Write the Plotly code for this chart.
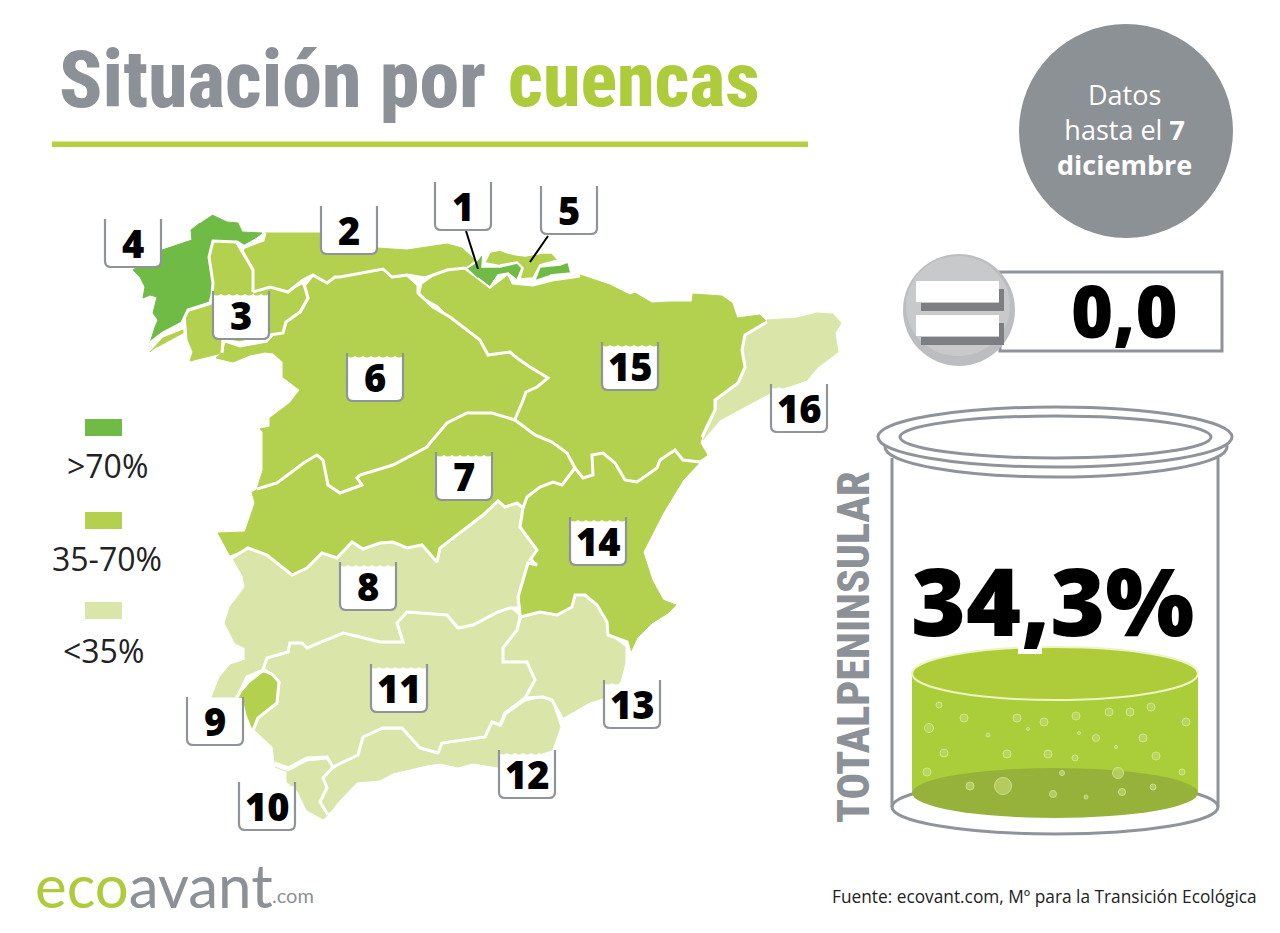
import plotly.graph_objects as go

# basin outlines (image pixel units)
cuenca_4 = [(212,215),(227,222),(238,223),(242,232),(262,233),(257,237),(243,245),(237,242),(213,241),(209,257),
            (213,283),(212,295),(210,303),(188,310),(182,323),(163,333),(150,343),(155,327),(158,320),(153,313),
            (157,297),(150,295),(143,298),(145,287),(140,277),(133,270),(162,250),(192,240),(191,230),(200,223)]
cuenca_3 = [(213,242),(235,243),(242,255),(252,270),(252,292),(270,287),(287,293),(302,285),(308,298),(300,312),
            (286,322),(283,333),(270,335),(240,343),(223,340),(222,353),(190,361),(193,352),(188,340),(186,313),
            (212,305),(213,283),(210,257)]
cuenca_3b = [(225,343),(240,347),(267,342),(265,352),(250,355),(233,362),(216,358),(223,352)]
cuenca_3c = [(150,352),(163,338),(183,330),(183,333),(157,347)]
cuenca_2 = [(245,247),(263,240),(265,233),(320,233),(377,248),(407,250),(447,244),(462,248),(475,260),(465,268),
            (447,270),(425,278),(407,275),(392,277),(383,269),(340,277),(335,277),(327,283),(313,275),(303,280),
            (288,292),(270,287),(253,292),(253,270),(243,253)]
cuenca_6 = [(313,277),(327,284),(335,278),(340,278),(383,270),(392,279),(407,277),(418,285),(418,293),(433,307),
            (450,317),(467,330),(480,340),(488,355),(510,352),(517,358),(530,367),(548,378),(537,387),(526,392),
            (522,403),(515,418),(492,413),(467,413),(447,423),(430,443),(427,447),(393,465),(360,475),(357,478),
            (362,485),(340,493),(328,485),(323,460),(317,455),(305,462),(277,483),(257,489),(263,470),(263,432),
            (260,429),(270,427),(270,418),(290,403),(300,390),(283,377),(283,362),(273,353),(265,352),(268,342),
            (287,323),(302,313),(310,298),(305,287)]
cuenca_7 = [(252,492),(255,503),(245,532),(218,533),(230,555),(248,548),(267,555),(292,575),(307,568),(322,553),
            (337,558),(352,542),(363,549),(380,543),(393,542),(407,548),(422,545),(437,562),(440,548),(463,530),
            (483,515),(498,501),(505,507),(517,503),(523,508),(527,497),(540,487),(553,482),(562,485),(573,467),
            (567,453),(552,442),(535,435),(515,420),(492,413),(467,413),(447,423),(430,443),(427,447),(393,465),
            (360,475),(357,478),(362,485),(340,493),(328,485),(323,460),(317,455),(305,462),(277,483),(257,489)]
cuenca_8 = [(232,558),(248,548),(267,555),(292,575),(307,568),(322,553),(337,558),(352,542),(363,549),(380,543),
            (393,542),(407,548),(422,545),(437,562),(440,548),(463,530),(483,515),(498,501),(505,507),(517,503),
            (523,508),(518,523),(537,550),(530,560),(525,568),(518,597),(520,608),(510,608),(498,612),(473,625),
            (458,628),(447,615),(407,612),(397,623),(403,642),(380,642),(360,637),(343,633),(307,648),(302,643),
            (290,643),(288,652),(267,658),(263,670),(247,677),(235,697),(212,697),(220,677),(230,665),(245,660),
            (245,648),(235,643),(225,623),(230,607),(245,587),(243,577)]
cuenca_9 = [(237,698),(250,683),(263,673),(273,675),(279,682),(277,703),(258,718),(253,730),(247,715),(243,698)]
cuenca_11 = [(265,662),(267,658),(288,652),(290,643),(302,643),(307,648),(343,633),(360,637),(380,642),(403,642),
             (397,623),(407,612),(447,615),(458,628),(473,625),(498,612),(510,608),(520,617),(517,630),(503,648),
             (503,662),(527,662),(535,680),(525,698),(505,713),(500,725),(492,722),(485,737),(442,743),(438,753),
             (420,748),(402,728),(383,728),(363,737),(358,755),(333,767),(327,757),(307,758),(288,768),(275,763),
             (273,747),(255,730),(260,718),(278,705),(281,682),(273,673),(263,667)]
cuenca_10 = [(275,767),(288,772),(307,762),(327,760),(333,768),(323,778),(327,788),(320,802),(328,815),(323,819),
             (307,810),(297,790),(287,782),(287,772)]
cuenca_12 = [(323,777),(357,753),(363,737),(383,730),(402,730),(420,750),(438,755),(443,743),(485,738),(493,723),
             (502,727),(507,715),(525,702),(543,698),(552,703),(560,727),(552,750),(498,767),(473,763),(458,767),
             (440,763),(427,765),(393,773),(380,780),(357,782),(337,803),(332,810),(328,813),(322,802),(327,788)]
cuenca_13 = [(522,618),(540,613),(557,617),(572,607),(575,595),(585,595),(597,605),(607,622),(607,633),(618,642),
             (625,647),(625,663),(620,682),(603,698),(590,702),(562,718),(552,700),(543,697),(525,698),(536,680),
             (528,662),(505,662),(503,648),(518,630)]
cuenca_14 = [(523,508),(527,497),(540,487),(553,482),(562,485),(575,468),(583,478),(593,475),(592,455),(603,453),
             (615,463),(625,480),(637,482),(657,468),(660,460),(675,450),(683,460),(700,462),(683,480),(663,513),
             (643,552),(652,580),(663,600),(676,605),(668,613),(652,623),(637,638),(630,653),(627,642),(608,635),
             (607,622),(597,605),(585,595),(575,595),(572,607),(557,615),(540,612),(522,615),(520,597),(528,563),
             (537,565),(533,558),(537,550),(520,527)]
cuenca_15 = [(422,285),(433,277),(455,268),(465,268),(490,287),(508,273),(513,283),(533,285),(552,280),(580,275),
             (610,285),(630,295),(635,293),(652,303),(670,302),(692,302),(693,294),(722,296),(732,303),(737,318),
             (760,315),(767,322),(745,335),(742,350),(745,367),(738,383),(715,400),(715,410),(702,437),(700,443),
             (707,455),(700,460),(683,460),(675,450),(660,460),(657,468),(637,482),(625,480),(615,463),(603,453),
             (592,455),(593,475),(583,478),(575,468),(567,453),(552,442),(535,435),(515,420),(526,392),(548,378),
             (530,367),(510,352),(488,355),(482,343),(460,327),(450,317),(438,305),(420,295)]
cuenca_16 = [(767,320),(797,318),(817,313),(833,314),(841,323),(835,333),(838,352),(818,367),(807,380),(770,393),
             (720,420),(703,440),(717,410),(717,400),(740,383),(747,367),(743,350),(747,335)]
cuenca_1 = [(467,268),(475,263),(483,253),(482,267),(500,267),(517,263),(522,268),(517,280),(508,273),(498,275),
            (490,287),(478,278)]
cuenca_1b = [(535,280),(540,267),(560,265),(568,262),(571,273),(550,275)]
cuenca_5 = [(485,262),(490,252),(500,250),(508,253),(517,255),(525,256),(543,253),(552,253),(558,260),(540,265),
            (533,278),(520,279),(523,268),(517,262),(500,265)]

# white divides between neighbouring basins
divides = [
    [(265,233),(263,240),(245,247),(237,242),(213,241),(209,257),(213,283),(212,295),(210,303),(188,310),(182,323),
     (163,333),(150,343)],
    [(237,242),(243,253),(253,270),(253,292)],
    [(253,292),(270,287),(288,292),(303,280),(313,275),(327,283),(335,277),(340,277),(383,269),(392,277),(407,275),
     (425,278),(447,270),(465,268),(490,287),(508,273),(513,283),(533,285),(552,280),(580,276)],
    [(303,280),(308,298),(300,312),(286,322),(283,333),(270,335),(240,343),(223,340),(222,353)],
    [(223,340),(240,346),(267,341)],
    [(407,275),(418,285),(418,293),(433,307),(450,317),(467,330),(480,340),(488,355),(510,352),(517,358),(530,367),
     (548,378),(537,387),(526,392),(522,403),(515,419)],
    [(257,489),(277,483),(305,462),(317,455),(323,460),(328,485),(340,493),(362,485),(357,478),(360,475),(393,465),
     (427,447),(430,443),(447,423),(467,413),(492,413),(515,420)],
    [(515,420),(535,435),(552,442),(567,453),(575,468)],
    [(575,468),(562,485),(553,482),(540,487),(527,497),(523,508)],
    [(575,468),(583,478),(593,475),(592,455),(603,453),(615,463),(625,480),(637,482),(657,468),(660,460),(675,450),
     (683,460),(700,462)],
    [(767,322),(745,335),(742,350),(745,367),(738,383),(715,400),(715,410),(702,437)],
    [(232,558),(248,548),(267,555),(292,575),(307,568),(322,553),(337,558),(352,542),(363,549),(380,543),(393,542),
     (407,548),(422,545),(437,562),(440,548),(463,530),(483,515),(498,501),(505,507),(517,503),(523,508)],
    [(523,508),(520,527),(537,550),(530,560),(537,565),(528,563),(518,597),(520,617)],
    [(520,608),(510,608),(498,612),(473,625),(458,628),(447,615),(407,612),(397,623),(403,642),(380,642),(360,637),
     (343,633),(307,648),(302,643),(290,643),(288,652),(267,658),(263,670),(247,677),(237,698)],
    [(263,670),(273,675),(279,682),(277,703),(258,718),(253,730)],
    [(520,617),(517,630),(503,648),(503,662),(527,662),(535,680),(525,698)],
    [(520,617),(540,612),(557,615),(572,607),(575,595),(585,595),(597,605),(607,622),(608,635),(627,642),(630,653)],
    [(525,698),(543,697),(552,700),(562,718)],
    [(525,698),(505,713),(500,725),(492,722),(485,737),(442,743),(438,753),(420,748),(402,728),(383,728),(363,737),
     (358,755),(333,767),(323,778),(327,788),(320,802),(328,815)],
    [(333,767),(327,757),(307,758),(288,768),(275,763)],
]

legend_labels = [">70%", "35-70%", "<35%"]
legend_colors = ["#6fbb45", "#b3d14f", "#dae6a9"]

basin_polygons = [
    (cuenca_2, 1), (cuenca_4, 0), (cuenca_3, 1), (cuenca_3b, 1), (cuenca_3c, 1), (cuenca_6, 1), (cuenca_7, 1),
    (cuenca_8, 2), (cuenca_11, 2), (cuenca_9, 1), (cuenca_10, 2), (cuenca_12, 2), (cuenca_13, 2), (cuenca_14, 1),
    (cuenca_15, 1), (cuenca_16, 2),
]
small_polygons = [(cuenca_5, 1), (cuenca_1, 0), (cuenca_1b, 0)]

cup_labels = ["1", "2", "3", "4", "5", "6", "7", "8", "9", "10", "11", "12", "13", "14", "15", "16"]
cup_left = [435, 321, 213, 105, 541, 347, 436, 340, 187, 239, 371, 499, 604, 570, 602, 771]
cup_top = [182, 206, 291, 219, 186, 353, 452, 562, 697, 782, 664, 750, 680, 517, 342, 384]

variation = "0,0"
total_peninsular = "34,3%"

bubble_x = [939,964,929,1017,1044,1076,1109,1130,1151,1186,988,1028,1079,1096,1143,1116,944,1007,1048,1075,1156,
            927,1062,1118,1182,970,1003,1053,1086,1122,1153]
bubble_y = [705,718,728,718,722,716,712,712,707,722,735,729,733,738,738,747,753,754,754,758,756,
            772,773,773,772,786,786,794,797,792,787]
bubble_size = [6,8,9,8,8,8,8,8,8,8,4,3,3,7,8,3,8,8,8,6,8,
               8,5,11,6,8,17,7,4,7,6]

GRAY = "#8b9196"
LINE_GRAY = "#8f949a"
GREEN = "#aecb3b"
CONDENSED = "Roboto Condensed"
# page body keeps an 8px margin, so the figure starts at (8, 8)
PAGE_MARGIN = 8


def cup_shapes(left, top, w=56, h=48):
    # white cup with a wavy top edge, gray sides and base
    waves = 7
    step = w / waves
    fill = f"M {left},{top + 3}"
    for i in range(waves):
        fill += f" Q {left + step * (i + 0.5)},{top + 6} {left + step * (i + 1)},{top + 3}"
    fill += f" L {left + w},{top + h - 6} Q {left + w},{top + h} {left + w - 6},{top + h}"
    fill += f" L {left + 6},{top + h} Q {left},{top + h} {left},{top + h - 6} Z"
    edge = (f"M {left},{top} L {left},{top + h - 6} Q {left},{top + h} {left + 6},{top + h} "
            f"L {left + w - 6},{top + h} Q {left + w},{top + h} {left + w},{top + h - 6} L {left + w},{top}")
    return [
        dict(type="path", path=fill, fillcolor="white", line=dict(width=0), layer="above"),
        dict(type="path", path=edge, line=dict(color=LINE_GRAY, width=2.2), layer="above"),
    ]


def ellipse(x0, y0, x1, y1, color=None, fill=None, width=3, layer="below"):
    return dict(type="circle", x0=x0, y0=y0, x1=x1, y1=y1, fillcolor=fill or "rgba(0,0,0,0)",
                line=dict(color=color or "rgba(0,0,0,0)", width=width if color else 0), layer=layer)


def rect(x0, y0, x1, y1, fill, layer="below", color=None, width=0):
    return dict(type="rect", x0=x0, y0=y0, x1=x1, y1=y1, fillcolor=fill,
                line=dict(color=color or "rgba(0,0,0,0)", width=width), layer=layer)


def label(text, x, y, size, color="black", font="Open Sans", weight=400, xanchor="center", angle=0):
    return dict(text=text, x=x, y=y, xref="x", yref="y", showarrow=False, xanchor=xanchor, yanchor="middle",
                textangle=angle, font=dict(family=font, size=size, color=color, weight=weight))


fig = go.Figure()

for poly, level in basin_polygons:
    fig.add_trace(go.Scatter(x=[p[0] for p in poly], y=[p[1] for p in poly], mode="lines", fill="toself",
                             fillcolor=legend_colors[level], line=dict(color=legend_colors[level], width=1),
                             showlegend=False, hoverinfo="skip"))
for line in divides:
    fig.add_trace(go.Scatter(x=[p[0] for p in line], y=[p[1] for p in line], mode="lines",
                             line=dict(color="white", width=3), showlegend=False, hoverinfo="skip"))
for poly, level in small_polygons:
    fig.add_trace(go.Scatter(x=[p[0] for p in poly], y=[p[1] for p in poly], mode="lines", fill="toself",
                             fillcolor=legend_colors[level], line=dict(color="white", width=1.5),
                             showlegend=False, hoverinfo="skip"))

fig.add_trace(go.Scatter(x=bubble_x, y=bubble_y, mode="markers", showlegend=False, hoverinfo="skip",
                         marker=dict(size=bubble_size, color="#bfd86c", line=dict(color="#e4eeb8", width=1))))

shapes = [rect(52, 141.5, 808, 147, "#b5d03f")]
shapes.append(ellipse(1019, 24, 1233, 238, fill="#8c9196"))

# legend swatches
for color, y0 in zip(legend_colors, [419, 512, 602]):
    shapes.append(rect(85, y0, 122, y0 + 17, color))

# variation box and the equals badge
shapes.append(rect(1000, 272, 1222, 351, "white", color=LINE_GRAY, width=3))
shapes.append(ellipse(903, 254, 1015, 366, fill="#bcbdc0", layer="above"))
shapes.append(ellipse(906, 256, 1010, 356, fill="#c8c9cb", layer="above"))
for y0 in [281, 315]:
    shapes.append(rect(921, y0 + 22, 1004, y0 + 30, "#7b7e82", layer="above"))
    shapes.append(rect(999, y0 + 8, 1004, y0 + 30, "#7b7e82", layer="above"))
    shapes.append(rect(916, y0, 999, y0 + 21, "white", layer="above"))

# jar
shapes.append(ellipse(892, 780, 1218, 834, color=LINE_GRAY))
shapes.append(rect(912, 672, 1198, 792, "#aace39"))
shapes.append(ellipse(912, 768, 1198, 818, fill="#97b23a"))
shapes.append(ellipse(912, 647, 1198, 700, fill="#aecb39", color="#eef4c4", width=2))
shapes.append(dict(type="line", x0=892, y0=458, x1=892, y1=807, line=dict(color=LINE_GRAY, width=3), layer="below"))
shapes.append(dict(type="line", x0=1218, y0=458, x1=1218, y1=807, line=dict(color=LINE_GRAY, width=3), layer="below"))
shapes.append(ellipse(885, 417, 1227, 477, color=LINE_GRAY, fill="white"))
shapes.append(ellipse(878, 407, 1232, 467, color=LINE_GRAY, fill="white"))
shapes.append(ellipse(900, 416, 1211, 458, color=LINE_GRAY, fill="white"))
shapes.append(rect(1018, 646, 1042, 654, "white", layer="above"))

# leader lines from the cups to the small basins
shapes.append(dict(type="line", x0=466, y0=231, x1=478, y1=269, line=dict(color="black", width=2), layer="above"))
shapes.append(dict(type="line", x0=548, y0=236, x1=530, y1=262, line=dict(color="black", width=2), layer="above"))

for left, top in zip(cup_left, cup_top):
    shapes += cup_shapes(left, top)

annotations = [
    label("Situación por", 57, 80, 80, GRAY, CONDENSED, 800, "left"),
    label("cuencas", 506, 80, 76, GREEN, CONDENSED, 800, "left"),
    label("Datos<br>hasta el <b>7</b><br><b>diciembre</b>", 1124, 129, 27, "white"),
    label(variation, 1124, 310, 72, "black", weight=800),
    label(total_peninsular, 1052, 600, 94, "black", weight=800),
    label("TOTALPENINSULAR", 854, 647, 44, GRAY, CONDENSED, 800, angle=-90),
    label("Fuente: ecovant.com, Mº para la Transición Ecológica", 1259, 896, 17.3, "#222222", xanchor="right"),
    label('<span style="color:#afcb3c">eco</span>avant', 33, 885, 60, GRAY, "Lato", 400, "left"),
    label(".com", 270, 895, 20, GRAY, "Lato", 400, "left"),
]
for text, x, y in zip(legend_labels, [107, 107, 103], [465, 558, 650]):
    annotations.append(label(text, x, y, 32, "#222222"))
for text, left, top in zip(cup_labels, cup_left, cup_top):
    annotations.append(label(text, left + 28, top + 24, 38, "black", weight=800))

fig.update_layout(
    width=1280 - PAGE_MARGIN, height=933 - PAGE_MARGIN, margin=dict(l=0, r=0, t=0, b=0),
    paper_bgcolor="white", plot_bgcolor="white",
    xaxis=dict(range=[PAGE_MARGIN, 1280], visible=False, fixedrange=True),
    yaxis=dict(range=[933, PAGE_MARGIN], visible=False, fixedrange=True),
    shapes=shapes, annotations=annotations, showlegend=False,
)

fig.write_html("out.html")
